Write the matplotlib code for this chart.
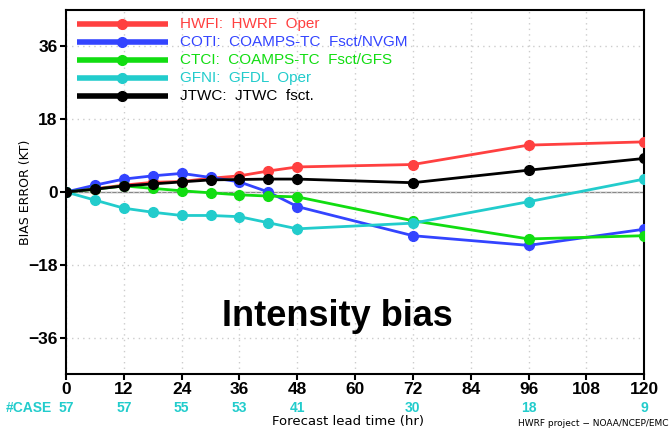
import matplotlib
matplotlib.use("Agg")
import matplotlib.pyplot as plt
import numpy as np

# forecast lead times (hr)
lead = [0, 6, 12, 18, 24, 30, 36, 42, 48, 72, 96, 120]

hwfi = [0, 0.8, 1.7, 2.4, 2.6, 3.4, 4.0, 5.2, 6.2, 6.8, 11.6, 12.4]
coti = [0, 1.7, 3.2, 4.0, 4.6, 3.6, 2.5, 0.0, -3.6, -10.8, -13.2, -9.2]
ctci = [0, 0.7, 1.5, 0.9, 0.3, -0.2, -0.7, -1.0, -1.2, -7.1, -11.6, -10.8]
gfni = [0, -2.0, -4.0, -5.0, -5.8, -5.8, -6.1, -7.6, -9.1, -7.7, -2.4, 3.2]
jtwc = [0, 0.7, 1.5, 2.0, 2.5, 3.0, 3.1, 3.2, 3.2, 2.3, 5.4, 8.3]

labels = ["HWFI:  HWRF  Oper",
          "COTI:  COAMPS-TC  Fsct/NVGM",
          "CTCI:  COAMPS-TC  Fsct/GFS",
          "GFNI:  GFDL  Oper",
          "JTWC:  JTWC  fsct."]
colors = ["#ff4040", "#3344ff", "#11dd11", "#22cccc", "#000000"]

case_hours = [0, 12, 24, 36, 48, 72, 96, 120]
case_counts = [57, 57, 55, 53, 41, 30, 18, 9]

fig = plt.figure(figsize=(6.71, 4.30), dpi=100)
ax = fig.add_axes([0.0984, 0.1302, 0.8616, 0.8465])

ax.axhline(0, color="#888888", lw=1.0, zorder=1)
for series, c in zip([hwfi, coti, ctci, gfni, jtwc], colors):
    ax.plot(lead, series, color=c, lw=2, marker="o", ms=7, zorder=3)

ax.set_xlim(0, 120)
ax.set_ylim(-45, 45)
ax.set_xticks(np.arange(0, 121, 12))
ax.set_yticks([-36, -18, 0, 18, 36])
ax.set_yticklabels(["\u221236", "\u221218", "0", "18", "36"])
ax.grid(True, color="#cccccc", ls=(0, (1, 3)), lw=1)
ax.tick_params(axis="both", direction="out", length=4, width=1.5,
               labelsize=12.5, pad=2)
for lab in ax.get_xticklabels() + ax.get_yticklabels():
    lab.set_fontfamily("Liberation Sans")
    lab.set_fontweight("bold")
for s in ax.spines.values():
    s.set_linewidth(1.5)

# legend drawn by hand in axes coords
for i, (lab, c) in enumerate(zip(labels, colors)):
    y = 0.962 - i * 0.0495
    ax.plot([0.019, 0.176], [y, y], color=c, lw=4, transform=ax.transAxes,
            solid_capstyle="butt", zorder=4)
    ax.plot([0.097], [y], color=c, marker="o", ms=7, transform=ax.transAxes,
            zorder=5)
    ax.text(0.197, y, lab, color=c, transform=ax.transAxes, fontsize=11,
            family="Liberation Sans", va="center", ha="left")

ax.text(0.47, 0.159, "Intensity bias", transform=ax.transAxes,
        fontsize=26, fontweight="bold", family="Liberation Sans",
        ha="center", va="center")

ax.set_ylabel("BIAS ERROR (KT)", fontsize=9, family="DejaVu Sans")
ax.yaxis.set_label_coords(-0.058, 0.5)

# case counts under each tick
fig.text(0.008, 1 - 408 / 430, "#CASE", color="#22cccc", fontsize=10,
         fontweight="bold", family="Liberation Sans", va="center")
for h, n in zip(case_hours, case_counts):
    ax.text(h, -0.094, str(n), transform=ax.get_xaxis_transform(),
            color="#22cccc", fontsize=10, fontweight="bold",
            family="Liberation Sans", ha="center", va="center")

fig.text(348 / 671, 1 - 422 / 430, "Forecast lead time (hr)", fontsize=9.5,
         family="DejaVu Sans", ha="center", va="center")
fig.text(0.997, 1 - 424 / 430, "HWRF project \u2212 NOAA/NCEP/EMC",
         fontsize=6.5, family="DejaVu Sans", ha="right", va="center")

fig.savefig("out.png", dpi=100)
